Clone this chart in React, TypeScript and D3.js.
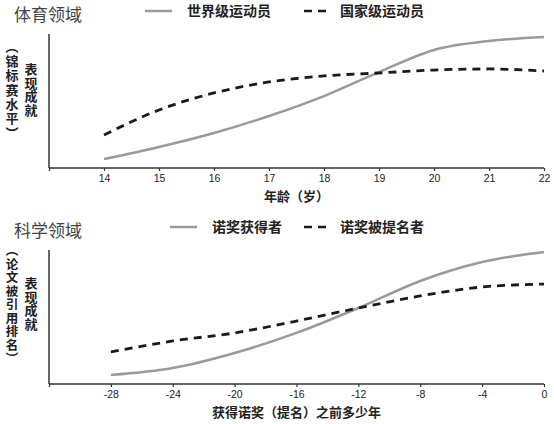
import { useEffect, useRef } from 'react';
import * as d3 from 'd3';

// top panel: sports
const sportAges = [14, 15, 16, 17, 18, 19, 20, 21, 22];
const worldClass = [0.67, 1.57, 2.61, 3.88, 5.37, 7.16, 8.81, 9.48, 9.78];
const nationalClass = [2.46, 4.33, 5.6, 6.42, 6.87, 7.09, 7.31, 7.39, 7.24];

// bottom panel: science
const yearsBefore = [-28, -24, -20, -16, -12, -8, -4, 0];
const laureates = [0.67, 1.19, 2.31, 3.81, 5.67, 7.69, 9.1, 9.85];
const nominees = [2.39, 3.21, 3.81, 4.7, 5.67, 6.57, 7.24, 7.46];

const FONT = '"Noto Sans CJK SC", "Liberation Sans", sans-serif';

interface PanelProps {
  top: number;
  title: string;
  xs: number[];
  solid: number[];
  dashed: number[];
  xDomain: [number, number];
  tickValues: number[];
  solidLabel: string;
  dashedLabel: string;
  solidLegendX: number;
  yNote: string;
  yNoteTop: number;
  yNoteSize: number;
  yNoteSpacing: number;
  yMainTop: number;
  xTitle: string;
}

function Panel(p: PanelProps) {
  const gRef = useRef<SVGGElement>(null);

  useEffect(() => {
    if (!gRef.current) return;
    const g = d3.select(gRef.current);
    g.selectAll('*').remove();

    const plotTop = 34;
    const plotBottom = 168;
    const left = 49;
    const right = 544;

    const x = d3.scaleLinear().domain(p.xDomain).range([left, right]);
    const y = d3.scaleLinear().domain([0, 10]).range([plotBottom, plotTop]);

    // title
    g.append('text')
      .attr('x', 14)
      .attr('y', 21)
      .attr('font-family', FONT)
      .attr('font-size', 17)
      .attr('fill', '#444')
      .text(p.title);

    // legend
    const lx = p.solidLegendX;
    g.append('line')
      .attr('x1', lx).attr('x2', lx + 27)
      .attr('y1', 11).attr('y2', 11)
      .attr('stroke', '#9a9a9a').attr('stroke-width', 2.5);
    g.append('text')
      .attr('x', lx + 42).attr('y', 16)
      .attr('font-family', FONT).attr('font-size', 14).attr('font-weight', 'bold')
      .attr('fill', '#222')
      .text(p.solidLabel);
    g.append('line')
      .attr('x1', 304).attr('x2', 328)
      .attr('y1', 11).attr('y2', 11)
      .attr('stroke', '#1a1a1a').attr('stroke-width', 2.5)
      .attr('stroke-dasharray', '8,6');
    g.append('text')
      .attr('x', 340).attr('y', 16)
      .attr('font-family', FONT).attr('font-size', 14).attr('font-weight', 'bold')
      .attr('fill', '#222')
      .text(p.dashedLabel);

    // axes
    g.append('line')
      .attr('x1', left).attr('x2', left)
      .attr('y1', plotTop).attr('y2', plotBottom)
      .attr('stroke', '#333').attr('stroke-width', 1.5);
    const xAxis = d3.axisBottom(x)
      .tickValues(p.tickValues)
      .tickSize(3)
      .tickPadding(4)
      .tickFormat(d => (p.xs.includes(+d) ? String(d) : ''));
    const ax = g.append('g')
      .attr('transform', `translate(0,${plotBottom})`)
      .call(xAxis);
    ax.select('.domain').attr('stroke', '#333').attr('stroke-width', 1.5)
      .attr('d', `M${left},0H${right}`);
    ax.selectAll('.tick line').attr('stroke', '#333').attr('stroke-width', 1.2);
    ax.selectAll('.tick text')
      .attr('font-family', '"Liberation Sans", Arial, sans-serif')
      .attr('font-size', 10.5)
      .attr('fill', '#222');

    g.append('text')
      .attr('x', (left + right) / 2)
      .attr('y', 201)
      .attr('text-anchor', 'middle')
      .attr('font-family', FONT).attr('font-size', 13).attr('font-weight', 'bold')
      .attr('fill', '#222')
      .text(p.xTitle);

    // vertical y labels
    g.append('text')
      .attr('x', 12)
      .attr('y', p.yNoteTop)
      .style('writing-mode', 'vertical-rl')
      .attr('letter-spacing', p.yNoteSpacing)
      .attr('font-family', FONT).attr('font-size', p.yNoteSize).attr('font-weight', 'bold')
      .attr('fill', '#222')
      .text(`（${p.yNote}）`);
    g.append('text')
      .attr('x', 31)
      .attr('y', p.yMainTop)
      .style('writing-mode', 'vertical-rl')
      .attr('letter-spacing', 0.5)
      .attr('font-family', FONT).attr('font-size', 13).attr('font-weight', 'bold')
      .attr('fill', '#222')
      .text('表现成就');

    // lines
    const line = d3.line<number>()
      .x((_, i) => x(p.xs[i]))
      .y(d => y(d))
      .curve(d3.curveMonotoneX);

    g.append('path')
      .attr('d', line(p.solid))
      .attr('fill', 'none')
      .attr('stroke', '#9a9a9a')
      .attr('stroke-width', 2.5);

    g.append('path')
      .attr('d', line(p.dashed))
      .attr('fill', 'none')
      .attr('stroke', '#1a1a1a')
      .attr('stroke-width', 2.8)
      .attr('stroke-dasharray', '8,6');
  }, [p]);

  return <g ref={gRef} transform={`translate(0,${p.top})`} />;
}

export default function App() {
  return (
    <svg
      width={554}
      height={424}
      style={{ position: 'absolute', left: 0, top: 0, background: '#fff' }}
    >
      <Panel
        top={0}
        title="体育领域"
        xs={sportAges}
        solid={worldClass}
        dashed={nationalClass}
        xDomain={[13, 22]}
        tickValues={[13, ...sportAges]}
        solidLabel="世界级运动员"
        dashedLabel="国家级运动员"
        solidLegendX={145}
        yNote="锦标赛水平"
        yNoteTop={40}
        yNoteSize={13}
        yNoteSpacing={1.4}
        yMainTop={63}
        xTitle="年龄（岁）"
      />
      <Panel
        top={216}
        title="科学领域"
        xs={yearsBefore}
        solid={laureates}
        dashed={nominees}
        xDomain={[-32, 0]}
        tickValues={[-32, ...yearsBefore]}
        solidLabel="诺奖获得者"
        dashedLabel="诺奖被提名者"
        solidLegendX={170}
        yNote="论文被引用排名"
        yNoteTop={28}
        yNoteSize={12.5}
        yNoteSpacing={1}
        yMainTop={61}
        xTitle="获得诺奖（提名）之前多少年"
      />
    </svg>
  );
}
